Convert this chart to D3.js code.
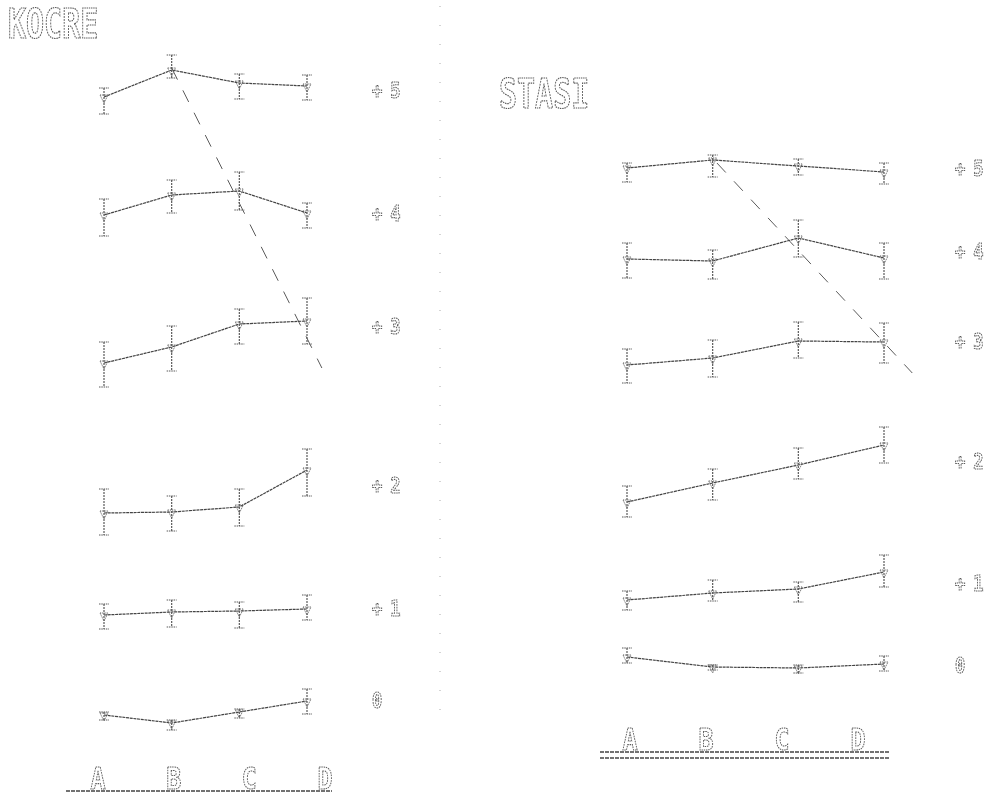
<!DOCTYPE html>
<html>
<head>
<meta charset="utf-8">
<script src="https://cdn.jsdelivr.net/npm/d3@7"></script>
<style>
  html, body { margin: 0; padding: 0; background: #fff; }
  svg { display: block; filter: grayscale(1); }
  text { opacity: 0.99; }
</style>
</head>
<body>
<svg id="chart" width="996" height="804"></svg>
<script>
// conditions on the x axis, offsets shown at the right of each row
var conditions = ["A", "B", "C", "D"];
var rowLabels = ["+5", "+4", "+3", "+2", "+1", "0"];

// KOCRE panel: mean, upper and lower end of the bar, per row (+5 .. 0)
var kocreMean = [
  [63.3, 66.0, 64.7, 64.4],
  [51.5, 53.5, 53.9, 51.7],
  [36.7, 38.3, 40.6, 40.9],
  [21.7, 21.8, 22.3, 26.0],
  [11.5, 11.8, 11.9, 12.1],
  [1.5, 0.7, 1.8, 2.9]
];
var kocreHigh = [
  [64.2, 67.5, 65.6, 65.5],
  [53.1, 55.0, 55.8, 52.7],
  [38.8, 40.4, 42.1, 43.2],
  [24.1, 23.4, 24.1, 28.1],
  [12.6, 13.0, 12.8, 13.5],
  [1.8, 1.0, 2.1, 4.1]
];
var kocreLow = [
  [61.6, 65.2, 63.1, 63.0],
  [49.4, 51.7, 52.0, 50.2],
  [34.3, 35.9, 38.6, 38.6],
  [19.5, 19.9, 20.4, 23.4],
  [10.1, 10.3, 10.2, 11.0],
  [1.0, 0.0, 1.2, 1.6]
];
var kocreLabelLevel = [63.8, 51.5, 40.2, 24.3, 12.0, 2.8];
var kocreTrend = [[1, 66.2], [3.22, 36.2]];

// STASI panel
var stasiMean = [
  [53.2, 54.0, 53.4, 52.8],
  [44.1, 43.9, 46.2, 44.2],
  [33.5, 34.2, 35.9, 35.8],
  [19.8, 21.7, 23.5, 25.5],
  [10.0, 10.7, 11.1, 12.8],
  [4.3, 3.3, 3.2, 3.6]
];
var stasiHigh = [
  [53.7, 54.5, 54.1, 53.7],
  [45.7, 45.0, 48.0, 45.7],
  [35.1, 36.0, 37.8, 37.7],
  [21.4, 23.1, 25.2, 27.3],
  [10.9, 12.0, 11.8, 14.5],
  [5.2, 3.5, 3.5, 4.4]
];
var stasiLow = [
  [51.8, 52.3, 52.5, 51.6],
  [42.2, 42.1, 44.3, 42.1],
  [31.7, 32.3, 34.2, 33.7],
  [18.3, 20.0, 22.1, 23.7],
  [9.0, 9.9, 9.8, 11.3],
  [3.7, 3.0, 2.7, 2.9]
];
var stasiLabelLevel = [53.0, 44.7, 35.7, 23.7, 11.5, 3.3];
var stasiTrend = [[1.05, 53.7], [3.33, 32.7]];

var svg = d3.select("#chart");
var ink = "#5a5a5a";

// dot-matrix look for text
function dotText(sel, size, sy) {
  sel.style("font-family", "'DejaVu Sans Mono', monospace")
    .style("font-size", size + "px")
    .style("font-weight", "bold")
    .attr("fill", "none")
    .attr("stroke", ink)
    .attr("stroke-width", 0.9)
    .attr("stroke-dasharray", "1.4,0.8")
    .attr("transform", function() {
      var x = +d3.select(this).attr("x"), y = +d3.select(this).attr("y");
      return "translate(" + x + "," + y + ") scale(1," + sy + ") translate(" + (-x) + "," + (-y) + ")";
    });
}

function panel(p) {
  var g = svg.append("g");
  var x = d3.scaleLinear().domain([0, 3]).range(p.xRange);
  var y = d3.scaleLinear().domain(p.yDomain).range(p.yRange);
  var xAxis = d3.scalePoint().domain(conditions).range(p.axisRange);

  // title
  g.append("text").attr("x", p.title[1]).attr("y", p.title[2])
    .text(p.title[0]).call(dotText, 30, 1.36);

  // dashed trend
  g.append("path")
    .datum(p.trend)
    .attr("d", d3.line().x(function(d) { return x(d[0]); }).y(function(d) { return y(d[1]); }))
    .attr("fill", "none").attr("stroke", ink).attr("stroke-width", 1)
    .attr("stroke-dasharray", "13,12");

  var rows = g.selectAll("g.row")
    .data(rowLabels)
    .enter().append("g").attr("class", "row");

  rows.each(function(lab, r) {
    var rg = d3.select(this);
    var pts = conditions.map(function(c, i) {
      return { i: i, m: p.mean[r][i], hi: p.high[r][i], lo: p.low[r][i] };
    });

    rg.append("path")
      .datum(pts)
      .attr("d", d3.line().x(function(d) { return x(d.i); }).y(function(d) { return y(d.m); }))
      .attr("fill", "none").attr("stroke", "#444").attr("stroke-width", 1.2)
      .attr("stroke-dasharray", "3,0.7");

    var bars = rg.selectAll("g.bar").data(pts).enter().append("g").attr("class", "bar");
    bars.append("line")
      .attr("x1", function(d) { return x(d.i); }).attr("x2", function(d) { return x(d.i); })
      .attr("y1", function(d) { return y(d.hi); }).attr("y2", function(d) { return y(d.lo); })
      .attr("stroke", ink).attr("stroke-width", 1.2).attr("stroke-dasharray", "2,1");
    bars.selectAll("line.cap")
      .data(function(d) { return [d.hi, d.lo].map(function(v) { return { i: d.i, v: v }; }); })
      .enter().append("line").attr("class", "cap")
      .attr("x1", function(d) { return x(d.i) - 5; }).attr("x2", function(d) { return x(d.i) + 5; })
      .attr("y1", function(d) { return y(d.v); }).attr("y2", function(d) { return y(d.v); })
      .attr("stroke", ink).attr("stroke-width", 1.2).attr("stroke-dasharray", "1.5,0.8");
    bars.append("path")
      .attr("d", function(d) {
        var cx = x(d.i), cy = y(d.m);
        return "M" + (cx - 4) + "," + (cy - 2) + "L" + (cx + 4) + "," + (cy - 2) + "L" + cx + "," + (cy + 6) + "Z";
      })
      .attr("fill", "none").attr("stroke", ink).attr("stroke-width", 1)
      .attr("stroke-dasharray", "1.2,1");

    rg.append("text")
      .attr("x", p.labelX).attr("y", y(p.labelLevel[r]) + 6)
      .style("letter-spacing", "8px")
      .text(lab).call(dotText, 17, 1.25);
  });

  // axis line and letters
  p.axisLines.forEach(function(ly) {
    g.append("line")
      .attr("x1", p.axisLine[0]).attr("x2", p.axisLine[1])
      .attr("y1", ly).attr("y2", ly)
      .attr("stroke", "#444").attr("stroke-width", 1.6).attr("stroke-dasharray", "4,1");
  });
  g.selectAll("text.cond")
    .data(conditions)
    .enter().append("text").attr("class", "cond")
    .attr("x", function(d) { return xAxis(d); })
    .attr("y", p.axisLines[0] - 2)
    .attr("text-anchor", "middle")
    .text(function(d) { return d; })
    .each(function() { d3.select(this).call(dotText, 25, 1.2); });
}

panel({
  title: ["KOCRE", 8, 38],
  xRange: [104, 307], yDomain: [0, 70], yRange: [730, 30],
  axisRange: [98, 325], axisLine: [66, 332], axisLines: [791],
  mean: kocreMean, high: kocreHigh, low: kocreLow,
  labelLevel: kocreLabelLevel, labelX: 372, trend: kocreTrend
});

panel({
  title: ["STASI", 499, 108],
  xRange: [627, 884], yDomain: [0, 60], yRange: [700, 100],
  axisRange: [630, 858], axisLine: [600, 889], axisLines: [752, 758],
  mean: stasiMean, high: stasiHigh, low: stasiLow,
  labelLevel: stasiLabelLevel, labelX: 955, trend: stasiTrend
});

// faint fold line between the two panels
svg.append("line")
  .attr("x1", 440).attr("x2", 440).attr("y1", 6).attr("y2", 720)
  .attr("stroke", "#aaa").attr("stroke-width", 1)
  .attr("stroke-dasharray", "1,18");
</script>
</body>
</html>
